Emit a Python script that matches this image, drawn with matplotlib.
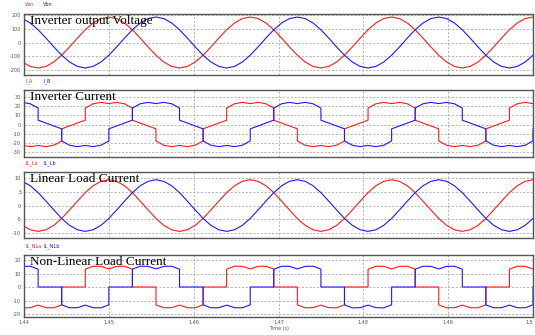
import numpy as np
import matplotlib.pyplot as plt

# samples every 20 deg of the 60 Hz cycle (1/1080 s)
t0, dt = 1.436111, 1 / 1080
t = t0 + dt * np.arange(73)

# Inverter output voltage (V)
van = [92.5, 32.1, -32.1, -92.5, -141.7, -173.8, -185, -173.8, -141.7, -92.5, -32.1, 32.1, 92.5, 141.7, 173.8, 185, 173.8, 141.7,
       92.5, 32.1, -32.1, -92.5, -141.7, -173.8, -185, -173.8, -141.7, -92.5, -32.1, 32.1, 92.5, 141.7, 173.8, 185, 173.8, 141.7,
       92.5, 32.1, -32.1, -92.5, -141.7, -173.8, -185, -173.8, -141.7, -92.5, -32.1, 32.1, 92.5, 141.7, 173.8, 185, 173.8, 141.7,
       92.5, 32.1, -32.1, -92.5, -141.7, -173.8, -185, -173.8, -141.7, -92.5, -32.1, 32.1, 92.5, 141.7, 173.8, 185, 173.8, 141.7,
       92.5]
vbn = [92.5, 141.7, 173.8, 185, 173.8, 141.7, 92.5, 32.1, -32.1, -92.5, -141.7, -173.8, -185, -173.8, -141.7, -92.5, -32.1, 32.1,
       92.5, 141.7, 173.8, 185, 173.8, 141.7, 92.5, 32.1, -32.1, -92.5, -141.7, -173.8, -185, -173.8, -141.7, -92.5, -32.1, 32.1,
       92.5, 141.7, 173.8, 185, 173.8, 141.7, 92.5, 32.1, -32.1, -92.5, -141.7, -173.8, -185, -173.8, -141.7, -92.5, -32.1, 32.1,
       92.5, 141.7, 173.8, 185, 173.8, 141.7, 92.5, 32.1, -32.1, -92.5, -141.7, -173.8, -185, -173.8, -141.7, -92.5, -32.1, 32.1,
       92.5]

# Linear load current (A)
il_la = [4.7, 1.6, -1.6, -4.7, -7.2, -8.8, -9.4, -8.8, -7.2, -4.7, -1.6, 1.6, 4.7, 7.2, 8.8, 9.4, 8.8, 7.2,
         4.7, 1.6, -1.6, -4.7, -7.2, -8.8, -9.4, -8.8, -7.2, -4.7, -1.6, 1.6, 4.7, 7.2, 8.8, 9.4, 8.8, 7.2,
         4.7, 1.6, -1.6, -4.7, -7.2, -8.8, -9.4, -8.8, -7.2, -4.7, -1.6, 1.6, 4.7, 7.2, 8.8, 9.4, 8.8, 7.2,
         4.7, 1.6, -1.6, -4.7, -7.2, -8.8, -9.4, -8.8, -7.2, -4.7, -1.6, 1.6, 4.7, 7.2, 8.8, 9.4, 8.8, 7.2,
         4.7]
il_lb = [4.7, 7.2, 8.8, 9.4, 8.8, 7.2, 4.7, 1.6, -1.6, -4.7, -7.2, -8.8, -9.4, -8.8, -7.2, -4.7, -1.6, 1.6,
         4.7, 7.2, 8.8, 9.4, 8.8, 7.2, 4.7, 1.6, -1.6, -4.7, -7.2, -8.8, -9.4, -8.8, -7.2, -4.7, -1.6, 1.6,
         4.7, 7.2, 8.8, 9.4, 8.8, 7.2, 4.7, 1.6, -1.6, -4.7, -7.2, -8.8, -9.4, -8.8, -7.2, -4.7, -1.6, 1.6,
         4.7, 7.2, 8.8, 9.4, 8.8, 7.2, 4.7, 1.6, -1.6, -4.7, -7.2, -8.8, -9.4, -8.8, -7.2, -4.7, -1.6, 1.6,
         4.7]

# Non-linear load current: 120 deg conduction blocks (magnitude every 20 deg)
blk = [13.2, 15.4, 15.3, 13.4, 15.3, 15.4, 13.2]
a_start = [1.43889, 1.44722, 1.45556, 1.46389, 1.47222, 1.48056, 1.48889, 1.49722]
a_sign = [-1, 1, -1, 1, -1, 1, -1, 1]
b_start = [1.43611, 1.44444, 1.45278, 1.46111, 1.46944, 1.47778, 1.48611, 1.49444]
b_sign = [1, -1, 1, -1, 1, -1, 1, -1]

xticks = [1.44, 1.45, 1.46, 1.47, 1.48, 1.49, 1.5]
xlabels = ['1.44', '1.45', '1.46', '1.47', '1.48', '1.49', '1.5']


# nonlinear current and inverter current (= linear + nonlinear) for one phase
def currents(starts, signs, lin):
    tt, nl, inv = [], [], []
    k = 0
    for s, sg in zip(starts, signs):
        k0 = round((s - t0) / dt)
        for j in range(k, k0):
            tt.append(t[j]); nl.append(0); inv.append(lin[j])
        tt.append(t[k0]); nl.append(0); inv.append(lin[k0])
        for j, p in enumerate(blk):
            tt.append(t[k0 + j]); nl.append(sg * p); inv.append(lin[k0 + j] + sg * p)
        k = k0 + 6
        tt.append(t[k]); nl.append(0); inv.append(lin[k])
        k += 1
    for j in range(k, len(t)):
        tt.append(t[j]); nl.append(0); inv.append(lin[j])
    return tt, nl, inv


ta, nla, ia = currents(a_start, a_sign, il_la)
tb, nlb, ib = currents(b_start, b_sign, il_lb)

RED, BLUE = '#ff1a1a', '#1a1aff'
W, H = 535, 335
fig = plt.figure(figsize=(W / 100, H / 100), dpi=100)

# (top px, bottom px, ylim, yticks, title, legend labels, series)
panels = [
    (14, 75, (-236, 207), [200, 100, 0, -100, -200], 'Inverter output Voltage', ('Van', 'Vbn'),
     (t, van, t, vbn)),
    (90, 157, (-35.4, 37.6), [30, 20, 10, 0, -10, -20, -30], 'Inverter Current', ('I_A', 'I_B'),
     (ta, ia, tb, ib)),
    (172, 238, (-11.8, 12.2), [10, 5, 0, -5, -10], 'Linear Load Current', ('IL_La', 'IL_Lb'),
     (t, il_la, t, il_lb)),
    (255, 317, (-22.2, 23.7), [20, 10, 0, -10, -20], 'Non-Linear Load Current', ('IL_NLa', 'IL_NLb'),
     (ta, nla, tb, nlb)),
]

left, right = 24, 533
for i, (top, bot, yl, yt, title, leg, (x1, y1, x2, y2)) in enumerate(panels):
    ax = fig.add_axes([left / W, 1 - bot / H, (right - left) / W, (bot - top) / H])
    ax.plot(x1, y1, color=RED, lw=0.8)
    ax.plot(x2, y2, color=BLUE, lw=0.8)
    ax.set_xlim(1.44, 1.5)
    ax.set_ylim(*yl)
    ax.set_yticks(yt)
    ax.set_yticklabels([str(v) for v in yt], fontsize=3.5, color='#555555')
    ax.set_xticks(xticks)
    if i == 3:
        labs = ax.set_xticklabels(xlabels, fontsize=3.5, color='#555555')
        labs[-1].set_horizontalalignment('right')
        ax.set_xlabel('Time (s)', fontsize=3.5, color='#555555', labelpad=1)
    else:
        ax.set_xticklabels([])
    ax.tick_params(length=0, pad=2)
    ax.grid(True, color='#aaaaaa', lw=0.6, ls=(0, (2.5, 2)))
    for sp in ax.spines.values():
        sp.set_color('#555555')
        sp.set_linewidth(1.0)
    ax.text(0.012, 0.985, title, transform=ax.transAxes, va='top', ha='left',
            fontsize=9.5, family='Liberation Serif', color='black', zorder=5)
    fig.text(25 / W, 1 - (top - 9) / H, leg[0], fontsize=3.5, color=RED, va='center')
    fig.text(43 / W, 1 - (top - 9) / H, leg[1], fontsize=3.5, color=BLUE, va='center')

fig.savefig('out.png', dpi=100)
